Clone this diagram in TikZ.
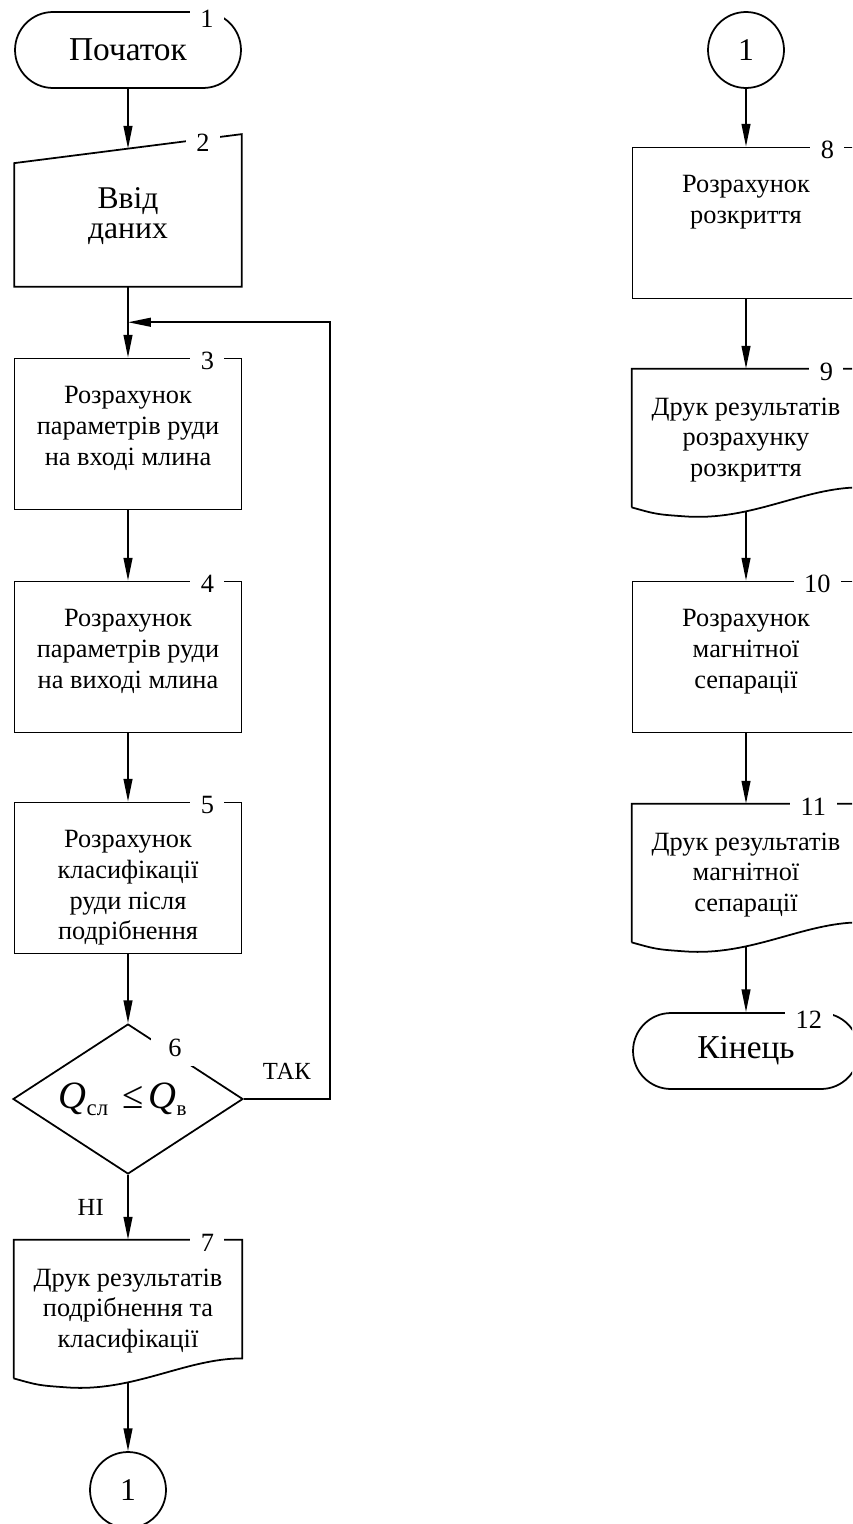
\documentclass[tikz,border=0pt]{standalone}
\usepackage{fontspec}
\setmainfont{Liberation Serif}
\usepackage{tikz}
\usetikzlibrary{shapes.geometric,
                calc, %for relative coord calculations
                arrows.meta, % for arrow tips
                positioning}

\begin{document}
\begin{tikzpicture}[x=0.02cm, y=-0.02cm, line width=1pt,
                    arr/.style={-{Triangle[length=13pt,width=5pt]}},
                    Term/.style={draw, rectangle, rounded corners=0.76cm, minimum width=4.52cm, minimum height=1.52cm, font=\fontsize{19}{19}\selectfont},
                    Proc/.style={draw, rectangle, minimum width=4.54cm, minimum height=3.02cm},
                    Doc/.style={rectangle, minimum width=4.54cm, minimum height=2.74cm},
                    Decide/.style={draw, diamond, aspect=1.53, minimum width=4.6cm, minimum height=3cm, inner sep=0pt},
                    Conn/.style={draw, circle, minimum size=1.52cm, inner sep=0pt, font=\fontsize{18}{18}\selectfont},
                    BoxTxt/.style={anchor=north, align=center, inner sep=0pt, yshift=-16pt, font=\fontsize{15}{17.4}\selectfont},
                    Num/.style={fill=white, inner xsep=6pt, inner ysep=1pt, font=\fontsize{15}{15}\selectfont},
                    Lab/.style={font=\fontsize{14}{14}\selectfont}
                    ]
    \useasboundingbox (0,0) rectangle (852,1524);
    \clip (0,0) rectangle (852,1524);

    % LEFT COLUMN %
    \node[Term] at (128,50) (B1){Початок};
    \node[rectangle, minimum width=4.52cm, minimum height=3.02cm,
          label={[align=center, yshift=-3pt, font=\fontsize{18}{17}\selectfont]center:Ввід\\даних}] at (128,210.5) (B2){};
    \draw (B2.north east) -- (B2.south east) -- (B2.south west) -- ($(B2.north west)+(0,29)$) -- cycle;
    \node[Proc, label={[BoxTxt]north:Розрахунок\\параметрів руди\\на вході млина}] at (128,434) (B3){};
    \node[Proc, label={[BoxTxt]north:Розрахунок\\параметрів руди\\на виході млина}] at (128,657) (B4){};
    \node[Proc, label={[BoxTxt]north:Розрахунок\\класифікації\\руди після\\подрібнення}] at (128,878) (B5){};
    \node[Decide] at (128,1099) (B6){\hspace*{-6pt}\fontsize{22}{22}\selectfont\textit{Q}\raisebox{-0.4ex}{\fontsize{13}{13}\selectfont сл}\hspace{8pt}≤\hspace{3pt}\textit{Q}\raisebox{-0.4ex}{\fontsize{12}{12}\selectfont в}};
    \node[Doc, label={[BoxTxt]north:Друк результатів\\подрібнення та\\класифікації}] at (128,1309) (B7){};
    \node[Conn] at (128,1490) (Ca){1};

    % RIGHT COLUMN %
    \node[Conn] at (746,50) (Cb){1};
    \node[Proc, label={[BoxTxt]north:Розрахунок\\розкриття}] at (746,223) (B8){};
    \node[Doc, label={[BoxTxt]north:Друк результатів\\розрахунку\\розкриття}] at (746,438) (B9){};
    \node[Proc, label={[BoxTxt]north:Розрахунок\\магнітної\\сепарації}] at (746,657) (B10){};
    \node[Doc, label={[BoxTxt]north:Друк результатів\\магнітної\\сепарації}] at (746,873) (B11){};
    \node[Term] at (746,1051) (B12){Кінець};

    % DOCUMENT OUTLINES %
    \foreach \x in {7,9,11}{
    \draw (B\x.south west) -- (B\x.north west) -- (B\x.north east) -- ($(B\x.south east)+(0,-20)$)
        .. controls ($(B\x.south east)+(-57,-20)$) and ($(B\x.south west)+(120,14)$) .. ($(B\x.south west)+(53,9)$)
        .. controls ($(B\x.south west)+(25,7)$) .. (B\x.south west);
    }

    % ARROWS %
    \coordinate (J) at ($(B2.south)!0.5!(B3.north)$);
    \draw[arr] (B1.south) -- ($($(B2.north west)+(0,29)$)!0.5!(B2.north east)$);
    \draw[arr] (B2.south) -- (B3.north);
    \draw[arr] (B3.south) -- (B4.north);
    \draw[arr] (B4.south) -- (B5.north);
    \draw[arr] (B5.south) -- (B6.north);
    \draw[arr] (B6.south) -- node[Lab, left=10pt]{НІ} (B7.north);
    \draw[arr] ($(B7.south)+(0,4)$) -- (Ca.north);
    \draw[arr] (B6.east) -- node[Lab, above=7pt]{ТАК} ++(86,0) |- (J);

    \draw[arr] (Cb.south) -- (B8.north);
    \draw[arr] (B8.south) -- (B9.north);
    \draw[arr] ($(B9.south)+(0,4)$) -- (B10.north);
    \draw[arr] (B10.south) -- (B11.north);
    \draw[arr] ($(B11.south)+(0,4)$) -- (B12.north);

    % NUMBERS %
    \foreach \x/\dx in {3/-35,4/-35,5/-35,7/-35,8/-33,9/-34,10/-43,11/-47}{
    \node[Num] at ($(B\x.north east)+(\dx,3)$) {\x};
    }
    \node[Num] at ($(B1.north east)+(-35,8)$) {1};
    \node[Num] at (203,143) {2};
    \node[Num, inner xsep=10pt, inner ysep=5pt] at (175,1048) {6};
    \node[Num] at ($(B12.north east)+(-51,8)$) {12};

    \end{tikzpicture}
\end{document}
